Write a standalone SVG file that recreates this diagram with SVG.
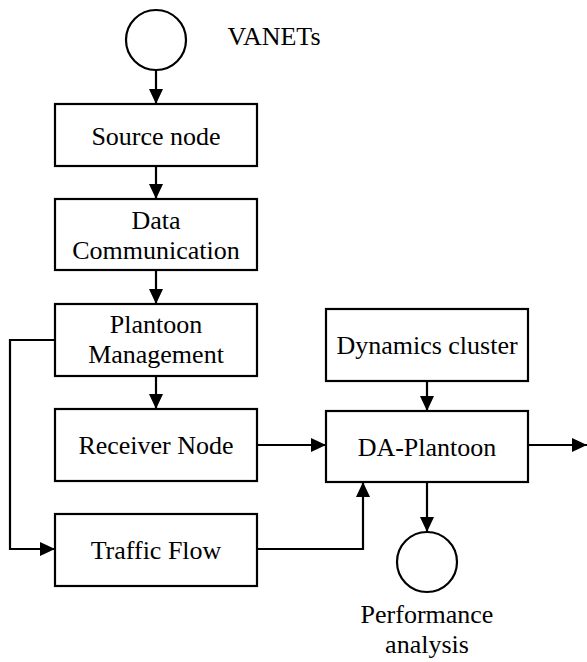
<svg xmlns="http://www.w3.org/2000/svg" width="587" height="662" viewBox="0 0 587 662">
<style>
.box{fill:#fff;stroke:#000;stroke-width:2.2}
.t{font-family:"Liberation Serif","Times New Roman",serif;font-size:26px;fill:#000;text-anchor:middle}
.c{fill:none;stroke:#000;stroke-width:2.2;marker-end:url(#ah)}
</style>
<defs>
<marker id="ah" markerUnits="userSpaceOnUse" markerWidth="16" markerHeight="15" refX="15" refY="7" orient="auto">
<path d="M0,0 L15,7 L0,14 z" fill="#000"/>
</marker>
</defs>
<rect width="587" height="662" fill="#fff"/>
<g id="connectors">
<path class="c" d="M156,70 V104"/>
<path class="c" d="M156,166 V199"/>
<path class="c" d="M156,270 V304"/>
<path class="c" d="M156,376 V409"/>
<path class="c" d="M55,340 H10 V549 H55"/>
<path class="c" d="M257,445 H326"/>
<path class="c" d="M257,549 H363 V482"/>
<path class="c" d="M427,381 V411"/>
<path class="c" d="M528,445 H587"/>
<path class="c" d="M427,482 V532"/>
</g>
<g id="vanets">
<circle cx="156" cy="40" r="30" class="box"/>
<text class="t" x="274" y="45">VANETs</text>
</g>
<g id="source-node">
<rect class="box" x="55" y="104" width="202" height="62"/>
<text class="t" x="156" y="145">Source node</text>
</g>
<g id="data-communication">
<rect class="box" x="55" y="199" width="202" height="71"/>
<text class="t" x="156" y="229">Data</text>
<text class="t" x="156" y="259">Communication</text>
</g>
<g id="plantoon-management">
<rect class="box" x="55" y="304" width="202" height="72"/>
<text class="t" x="156" y="333">Plantoon</text>
<text class="t" x="156" y="363">Management</text>
</g>
<g id="receiver-node">
<rect class="box" x="55" y="409" width="202" height="72"/>
<text class="t" x="156" y="454">Receiver Node</text>
</g>
<g id="traffic-flow">
<rect class="box" x="55" y="514" width="202" height="72"/>
<text class="t" x="156" y="559">Traffic Flow</text>
</g>
<g id="dynamics-cluster">
<rect class="box" x="326" y="309" width="202" height="72"/>
<text class="t" x="427" y="354">Dynamics cluster</text>
</g>
<g id="da-plantoon">
<rect class="box" x="326" y="411" width="202" height="71"/>
<text class="t" x="427" y="456">DA-Plantoon</text>
</g>
<g id="performance-analysis">
<circle cx="427" cy="562" r="30" class="box"/>
<text class="t" x="427" y="623">Performance</text>
<text class="t" x="427" y="653">analysis</text>
</g>
</svg>
